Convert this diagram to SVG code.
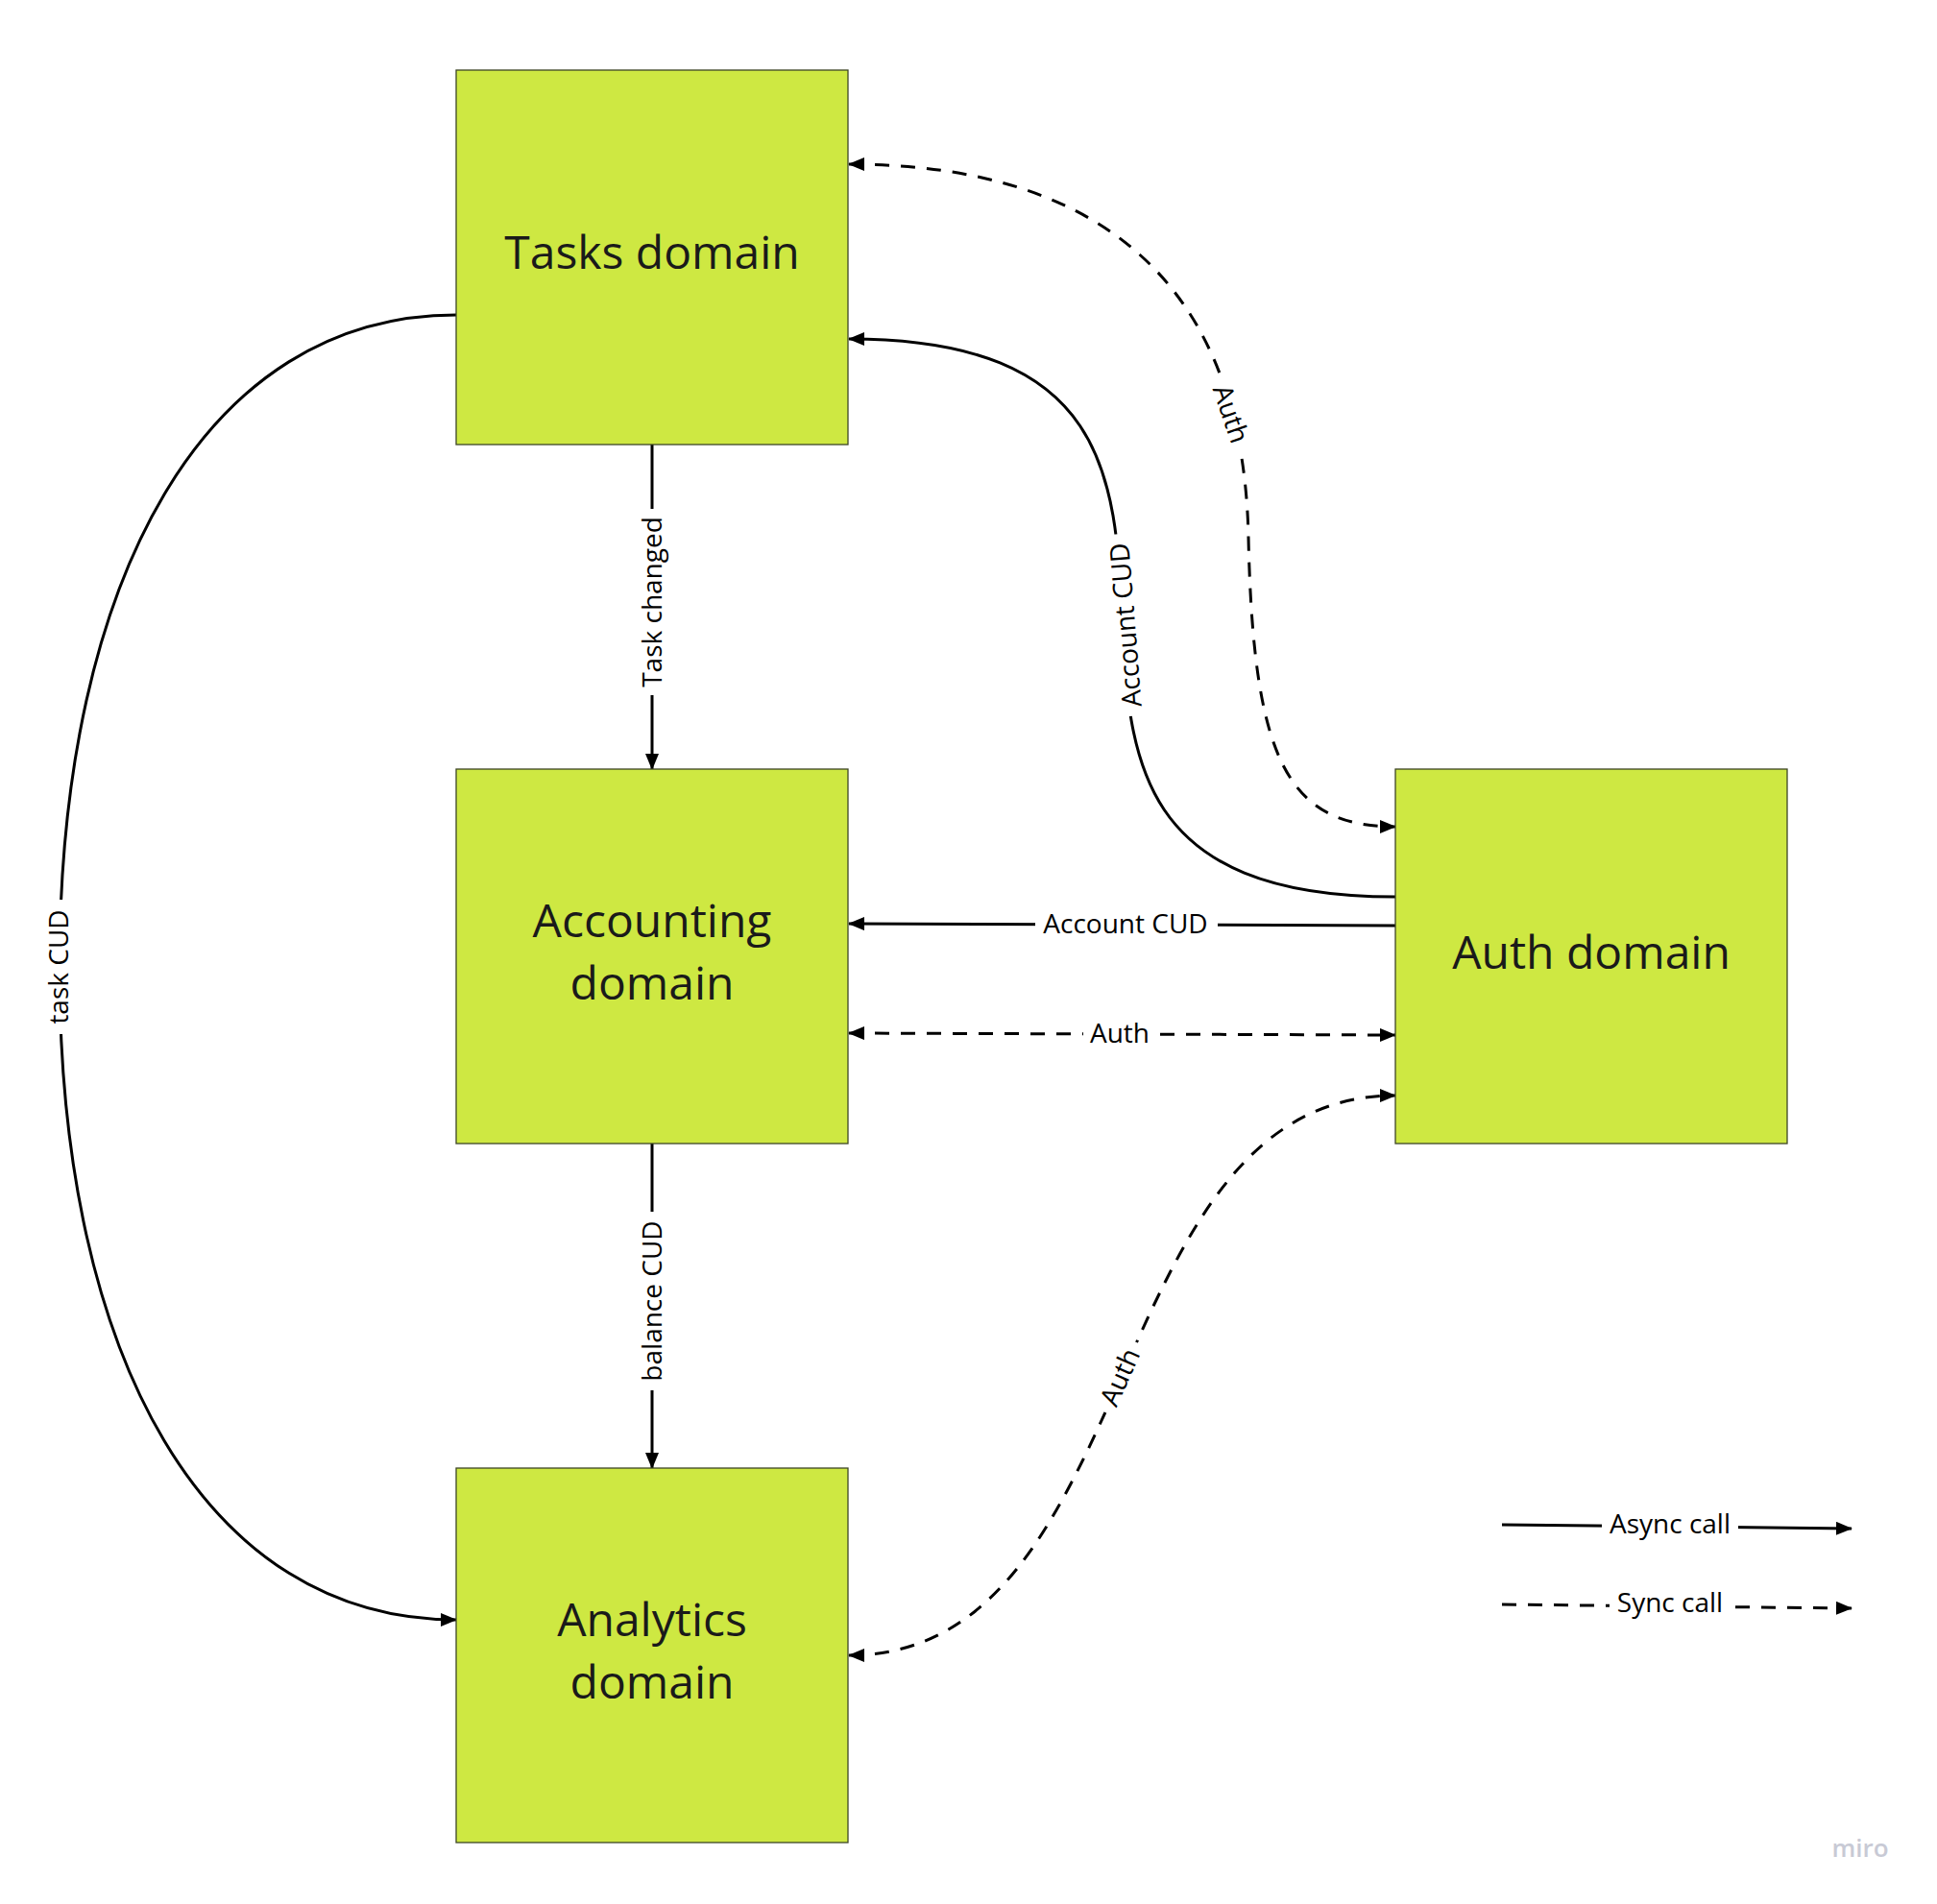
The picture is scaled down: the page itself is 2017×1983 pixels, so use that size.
<svg xmlns="http://www.w3.org/2000/svg" width="2017" height="1983" viewBox="0 0 2017 1983">
<style>
.box{fill:#cee842;stroke:#3d4526;stroke-width:1.3}
.title{font-family:"Open Sans","Noto Sans","Liberation Sans",sans-serif;font-size:48px;fill:#1a1a1a;text-anchor:middle}
.lbl{font-family:"Open Sans","Noto Sans","Liberation Sans",sans-serif;font-size:28px;fill:#000;text-anchor:middle}
.edge{fill:none;stroke:#000;stroke-width:3}
.dash{stroke-dasharray:15 12}
.bg{fill:#fff}
.wm{font-family:"Open Sans","Noto Sans",sans-serif;font-size:26px;font-weight:600;fill:#c8cad5;text-anchor:middle}
</style>
<defs>
<marker id="ah" viewBox="0 0 17 14" markerWidth="17" markerHeight="14" refX="16" refY="7" orient="auto-start-reverse" markerUnits="userSpaceOnUse">
<path d="M0,0 L17,7 L0,14 z" fill="#000"/>
</marker>
</defs>
<rect width="2017" height="1983" fill="#fff"/>

<g id="connectors">
  <g id="edge-task-changed">
    <path class="edge" d="M679,463 L679,801" marker-end="url(#ah)"/>
    <g transform="translate(679,627) rotate(-90)"><rect class="bg" x="-97" y="-16" width="194" height="32"/><text class="lbl" x="0" y="10">Task changed</text></g>
  </g>
  <g id="edge-balance-cud">
    <path class="edge" d="M679,1191 L679,1529" marker-end="url(#ah)"/>
    <g transform="translate(679,1355) rotate(-90)"><rect class="bg" x="-93" y="-16" width="186" height="32"/><text class="lbl" x="0" y="10">balance CUD</text></g>
  </g>
  <g id="edge-task-cud">
    <path class="edge" d="M475,328 C215,328 62,600 62,1008 C62,1416 215,1687 475,1687" marker-end="url(#ah)"/>
    <g transform="translate(61,1007) rotate(-90)"><rect class="bg" x="-70" y="-16" width="140" height="32"/><text class="lbl" x="0" y="10">task CUD</text></g>
  </g>
  <g id="edge-account-cud-tasks">
    <path class="edge" d="M1453,934 C913,934 1424,353 884,353" marker-end="url(#ah)"/>
    <g transform="translate(1172,651) rotate(-94.5)"><rect class="bg" x="-95" y="-16" width="190" height="32"/><text class="lbl" x="0" y="10">Account CUD</text></g>
  </g>
  <g id="edge-auth-tasks">
    <path class="edge dash" d="M884,171 C1150,171 1295,300 1300,560 C1305,790 1340,861 1453,861" marker-start="url(#ah)" marker-end="url(#ah)"/>
    <g transform="translate(1282,431) rotate(71)"><rect class="bg" x="-40" y="-16" width="80" height="32"/><text class="lbl" x="0" y="10">Auth</text></g>
  </g>
  <g id="edge-account-cud-accounting">
    <path class="edge" d="M1453,964 L884,962" marker-end="url(#ah)"/>
    <rect class="bg" x="1078" y="946" width="190" height="32"/>
    <text class="lbl" x="1172" y="972">Account CUD</text>
  </g>
  <g id="edge-auth-accounting">
    <path class="edge dash" d="M884,1076 L1453,1078" marker-start="url(#ah)" marker-end="url(#ah)"/>
    <rect class="bg" x="1128" y="1060" width="76" height="32"/>
    <text class="lbl" x="1166" y="1086">Auth</text>
  </g>
  <g id="edge-auth-analytics">
    <path class="edge dash" d="M884,1724 C1193,1724 1143,1141 1453,1141" marker-start="url(#ah)" marker-end="url(#ah)"/>
    <g transform="translate(1166,1434) rotate(-66)"><rect class="bg" x="-40" y="-16" width="80" height="32"/><text class="lbl" x="0" y="10">Auth</text></g>
  </g>
</g>

<g id="node-tasks">
  <rect class="box" x="475" y="73" width="408" height="390"/>
  <text class="title" x="679" y="280">Tasks domain</text>
</g>
<g id="node-accounting">
  <rect class="box" x="475" y="801" width="408" height="390"/>
  <text class="title" x="679" y="976">Accounting</text>
  <text class="title" x="679" y="1041">domain</text>
</g>
<g id="node-analytics">
  <rect class="box" x="475" y="1529" width="408" height="390"/>
  <text class="title" x="679" y="1704">Analytics</text>
  <text class="title" x="679" y="1769">domain</text>
</g>
<g id="node-auth">
  <rect class="box" x="1453" y="801" width="408" height="390"/>
  <text class="title" x="1657" y="1009">Auth domain</text>
</g>

<g id="legend">
  <path class="edge" d="M1564,1588 L1928,1592" marker-end="url(#ah)"/>
  <rect class="bg" x="1668" y="1572" width="142" height="32"/>
  <text class="lbl" x="1739" y="1597">Async call</text>
  <path class="edge dash" d="M1564,1671 L1928,1675" marker-end="url(#ah)"/>
  <rect class="bg" x="1676" y="1655" width="126" height="32"/>
  <text class="lbl" x="1739" y="1679">Sync call</text>
</g>

<g id="watermark">
  <text class="wm" x="1937" y="1934">miro</text>
</g>
</svg>
